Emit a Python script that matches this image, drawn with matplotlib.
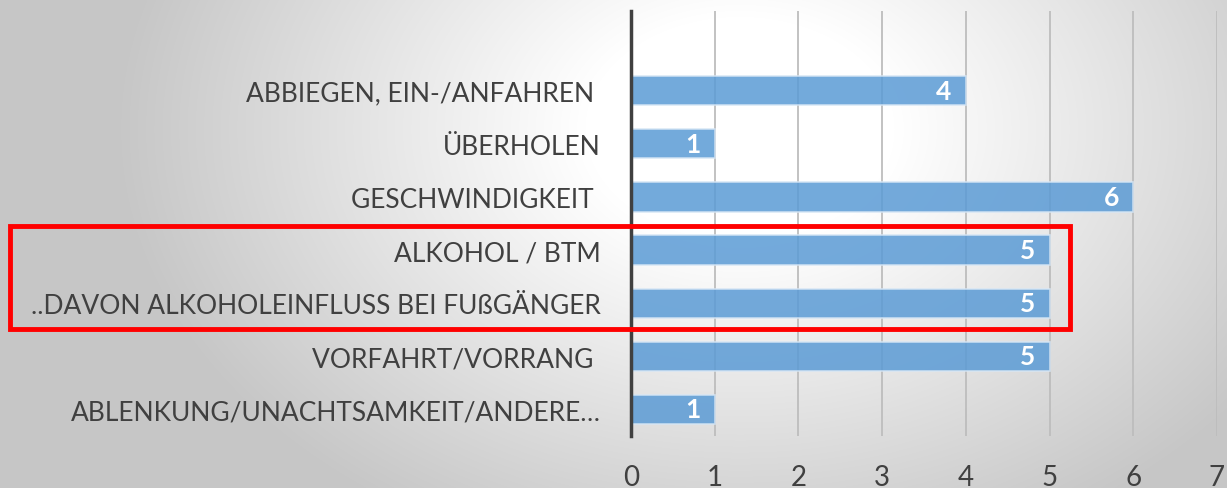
import numpy as np
import matplotlib
matplotlib.use("Agg")
import matplotlib.pyplot as plt
from matplotlib.patches import Rectangle

categories = [
    "ABBIEGEN, EIN-/ANFAHREN ",
    "ÜBERHOLEN",
    "GESCHWINDIGKEIT ",
    "ALKOHOL / BTM",
    "..DAVON ALKOHOLEINFLUSS BEI FUßGÄNGER",
    "VORFAHRT/VORRANG ",
    "ABLENKUNG/UNACHTSAMKEIT/ANDERE…",
]
values = [4, 1, 6, 5, 5, 5, 1]
xticks = [0, 1, 2, 3, 4, 5, 6, 7]

W, H = 1227, 489
fig = plt.figure(figsize=(W / 100, H / 100), dpi=100)

# radial gradient background
bg = fig.add_axes([0, 0, 1, 1])
yy, xx = np.mgrid[0:H, 0:W]
cx, cy = 740, 130
r = np.sqrt(((xx - cx) / 620.0) ** 2 + ((yy - cy) / 450.0) ** 2)
g = 1.0 - 0.22 * np.clip((r - 0.25) / 0.75, 0, 1.0)
bg.imshow(np.dstack([g, g, g]), extent=[0, 1, 0, 1], aspect="auto", origin="upper")
bg.axis("off")

font = ["Lato", "DejaVu Sans"]
txt_color = "#404040"

ax = fig.add_axes([631 / W, 1 - 437 / H, (1217 - 631) / W, (437 - 12) / H])
ax.patch.set_alpha(0)
n = len(categories)
ypos = np.arange(n)[::-1]
ax.set_ylim(-0.5, n + 0.5)
ax.set_xlim(0, 7)

ax.barh(ypos, values, height=0.55, color="#5B9BD5", alpha=0.85,
        edgecolor="#d6e6f5", linewidth=1.2, zorder=2)
for y, v in zip(ypos, values):
    ax.text(v - 0.17, y, str(v), ha="right", va="center", color="white",
            fontsize=19, fontweight="bold", family=font, zorder=3)

ax.set_yticks(ypos)
ax.set_yticklabels(categories, fontsize=19, color=txt_color, family=font)
ax.set_xticks(xticks)
ax.set_xticklabels([str(t) for t in xticks], fontsize=20, color=txt_color, family=font)
ax.tick_params(axis="both", length=0)
ax.tick_params(axis="y", pad=22)
ax.tick_params(axis="x", pad=20)
for s in ["top", "right", "bottom"]:
    ax.spines[s].set_visible(False)
ax.spines["left"].set_color("#404040")
ax.spines["left"].set_linewidth(2.5)
ax.spines["left"].set_zorder(4)
ax.xaxis.grid(True, color="#bdbdbd", linewidth=1.3, zorder=1)
ax.set_axisbelow(True)

# red highlight box
fig.patches.append(Rectangle((10 / W, 1 - 330 / H), (1070 - 10) / W, (330 - 227) / H,
                             transform=fig.transFigure, fill=False,
                             edgecolor="#ff0000", linewidth=3.5, zorder=10))

fig.savefig("out.png", dpi=100)
